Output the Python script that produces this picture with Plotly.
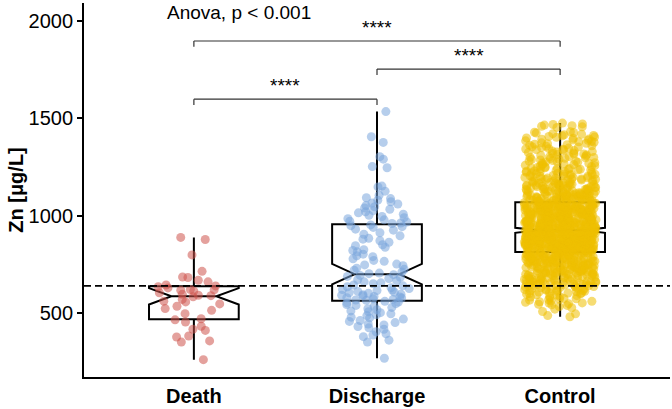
import plotly.graph_objects as go

# ---------------- data ----------------
categories = ["Death", "Discharge", "Control"]
colors = ["#CD534C", "#7AA6DC", "#EFC000"]

death_zn = [
    262, 352, 358, 378, 383, 412, 418, 433, 455, 466,
    472, 498, 515, 524, 536, 548, 558, 562, 571, 584,
    590, 592, 597, 605, 614, 618, 620, 622, 630, 636,
    640, 645, 661, 669, 683, 686, 715, 799, 878, 889,
]

discharge_zn = [
    269, 352, 362, 380, 388, 395, 405, 418, 425, 432, 440, 445, 452, 458, 463, 470, 476,
    480, 488, 492, 497, 503, 508, 512, 518, 523, 530, 536, 540, 545, 549, 553, 557, 561,
    566, 568, 571, 574, 578, 580, 583, 586, 590, 592, 595, 598, 602, 605, 608, 612, 616,
    619, 622, 627, 631, 636, 641, 645, 651, 656, 661, 667, 672, 678, 684, 689, 694, 698,
    703, 706, 712, 721, 725, 731, 744, 748, 752, 766, 771, 779, 790, 795, 803, 815, 822,
    826, 838, 846, 851, 864, 872, 880, 884, 897, 905, 913, 926, 931, 940, 944, 949, 953,
    960, 963, 968, 972, 979, 985, 990, 996, 1002, 1008, 1015, 1020, 1026, 1033, 1040, 1046, 1052,
    1060, 1065, 1072, 1080, 1088, 1092, 1105, 1126, 1148, 1152, 1246, 1252, 1290, 1303, 1376, 1405, 1534,
]

control_zn_a = [
    482, 497, 521, 534, 543, 549,
    553, 559, 561, 567, 572, 576, 583, 587, 593, 598,
    601, 606, 608, 613, 616, 617, 623, 627, 628, 634, 637, 638, 642, 645, 648, 649,
    651, 654, 655, 659, 662, 662, 665, 668, 671, 673, 673, 677, 680, 681, 685, 687, 689, 692, 694, 697, 698, 699,
    701, 703, 703, 706, 707, 710, 712, 713, 716, 718, 719, 721, 722, 725, 727, 728, 730, 733, 734, 736,
    738, 739, 741, 743, 745, 746, 748, 749,
    751, 752, 754, 755, 757, 758, 760, 761, 763, 764, 766, 767, 769, 770, 772, 773, 775, 776, 778, 780,
    781, 783, 784, 786, 787, 789, 791, 792, 794, 796, 797, 799, 801, 803, 805, 807, 809, 812,
    816, 817, 818, 819, 820, 822, 823, 824, 825, 826, 827, 828, 830, 831, 832, 833, 834, 835, 836, 838,
    839, 840, 841, 842, 843, 844, 846, 847, 848, 849, 850, 851, 852, 854, 855, 856, 857, 858, 859, 860,
    862, 863, 864, 865, 866, 867, 868, 869, 870, 871, 873, 874, 875, 876, 877, 878, 879, 880, 881, 882,
    884, 885, 886, 887, 888, 889, 890, 891, 892, 893, 894, 895, 896, 897, 898, 899, 900, 901, 902, 903,
    904, 905, 906, 907, 908, 909, 910, 910, 911, 912, 913, 914, 915, 916, 917, 918, 919, 920, 921, 922,
    923, 924, 821, 829, 837, 845, 853, 861, 872, 883, 845, 868, 877, 888, 895, 903, 912, 918, 860, 850,
    927, 928, 930, 931, 932, 934, 935, 936, 938, 939, 940, 942, 943, 944, 946, 947, 948, 950, 951, 952,
    954, 955, 957, 958, 959, 961, 962, 963, 965, 966, 967, 969, 970, 971, 973, 974, 976, 977, 978, 980,
    981, 982, 984, 985, 986, 988, 989, 991, 992, 993, 995, 996, 997, 999, 1000, 1001, 1003, 1004, 1005, 1007,
    1008, 1010, 1011, 1012, 1014, 1015, 1016, 1018, 1019, 1020, 1022, 1023, 1025, 1026, 1027, 1029, 1030, 1031, 1033, 1034,
    1035, 1037, 1038, 1040, 1041, 1042, 1044, 1045, 1046, 1048, 1049, 1050, 1052, 1053, 1055, 1056, 1057, 1059, 1060, 1061,
    1063, 1064, 1065, 1067, 933, 945, 956, 968, 979, 990, 1002, 1013, 1024, 1036, 1047, 1058, 941, 972, 1009, 1043,
    1071, 1073, 1075, 1077, 1079, 1081, 1083, 1085, 1087, 1089, 1091, 1093, 1096, 1098, 1100, 1102, 1104, 1107, 1109, 1111,
    1113, 1116, 1118, 1120, 1123, 1125, 1128, 1130, 1133, 1135, 1138, 1140, 1143, 1146, 1148, 1151, 1154, 1157, 1160, 1163,
    1166, 1169, 1172, 1175, 1178, 1181, 1185, 1188, 1191, 1195, 1198, 1202, 1205, 1209, 1213, 1216, 1220, 1224, 1228, 1232,
    1236, 1240, 1244, 1248, 1252, 1257, 1261, 1265, 1270, 1274, 1279, 1283, 1288, 1293, 1297, 1302, 1307, 1312, 1317, 1322,
    1327, 1332, 1337, 1342, 1347, 1352, 1357, 1362, 1367, 1372, 1377, 1382, 1387, 1392, 1397, 1402, 1407, 1412, 1418, 1424,
    1427, 1431, 1456, 1462, 1468, 1475, 1074, 1086, 1094, 1105, 1115, 1127, 1137, 1149, 1162, 1177, 1193, 1211, 1238, 1266,
]

control_zn_b = [
    488, 509, 528, 540, 546, 552, 556, 563, 569, 574, 579, 585, 590, 595, 599,
    603, 604, 611, 612, 619, 621, 625, 631, 632, 635, 640, 643, 646, 650,
    652, 657, 658, 660, 664, 666, 670, 670, 675, 678, 679, 683, 684, 688, 691, 693, 696, 700,
    702, 705, 708, 711, 714, 715, 717, 720, 723, 724, 726, 729, 732, 735, 737, 740, 742, 744, 747, 750,
    753, 756, 756, 759, 762, 765, 768, 771, 774, 777, 779, 782, 785, 788, 790, 793, 795, 798, 800, 802,
    804, 806, 808, 810, 811, 812, 753, 762, 771, 777, 784, 790, 796, 802, 808, 728, 738, 747, 717, 706,
    693, 682, 668, 657, 641, 629, 614, 781, 791, 799, 805, 766, 758,
    816, 818, 819, 821, 822, 824, 825, 827, 828, 829, 831, 832, 834, 835, 836, 837, 839, 840, 842, 843,
    844, 845, 847, 848, 850, 851, 853, 854, 855, 857, 858, 859, 861, 862, 863, 865, 866, 867, 869, 870,
    871, 872, 874, 875, 876, 878, 879, 880, 882, 883, 884, 886, 887, 888, 890, 891, 892, 894, 895, 896,
    898, 899, 900, 902, 903, 904, 906, 907, 908, 909, 911, 912, 913, 915, 916, 917, 919, 920, 921, 923,
    817, 820, 826, 830, 833, 838, 841, 846, 849, 852, 856, 860, 864, 868, 873, 877, 881, 885, 889, 893,
    897, 901, 905, 910, 914, 918, 922, 924, 826, 839, 852, 866, 879, 892, 905, 918, 833, 859, 885, 911,
    928, 929, 931, 933, 934, 936, 937, 939, 941, 942, 944, 945, 947, 949, 950, 952, 953, 955, 957, 958,
    960, 961, 963, 964, 966, 968, 969, 971, 972, 974, 975, 977, 979, 980, 982, 983, 985, 987, 988, 990,
    991, 993, 994, 996, 998, 999, 1001, 1002, 1004, 1006, 1007, 1009, 1010, 1012, 1013, 1015, 1017, 1018, 1020, 1021,
    1023, 1024, 1026, 1028, 1029, 1031, 1032, 1034, 1036, 1037, 1039, 1040, 1042, 1043, 1045, 1047, 1048, 1050, 1051, 1053,
    1054, 1056, 1058, 1059, 1061, 1062, 1064, 1066, 927, 935, 946, 956, 965, 976, 986, 997, 1005, 1016, 1027, 1038,
    1049, 1060, 930, 951, 970, 989, 1008, 1025, 1044, 1063, 938, 959, 978, 995, 1014, 1033, 1052, 943, 981, 1019,
    1072, 1074, 1076, 1078, 1080, 1082, 1084, 1086, 1088, 1090, 1092, 1095, 1097, 1099, 1101, 1103, 1106, 1108, 1110, 1112,
    1114, 1117, 1119, 1122, 1124, 1127, 1129, 1131, 1134, 1136, 1139, 1142, 1144, 1147, 1150, 1152, 1155, 1158, 1161, 1164,
    1167, 1170, 1173, 1176, 1179, 1183, 1186, 1189, 1193, 1196, 1200, 1203, 1207, 1211, 1214, 1218, 1222, 1226, 1230, 1234,
    1238, 1242, 1246, 1250, 1255, 1259, 1263, 1268, 1272, 1277, 1281, 1286, 1290, 1295, 1300, 1304, 1309, 1314, 1319, 1324,
    1329, 1334, 1339, 1344, 1349, 1354, 1359, 1364, 1369, 1374, 1379, 1384, 1389, 1394, 1399, 1404, 1410, 1415, 1421, 1428,
    1453, 1459, 1465, 1471, 1076, 1089, 1101, 1113, 1126, 1141, 1156, 1171, 1187, 1204, 1223, 1245, 1276, 1299, 1316, 1341,
]

group_values = [death_zn, discharge_zn, control_zn_a + control_zn_b]

y_ticks = [500, 1000, 1500, 2000]
reference_level = 640
anova_label = "Anova, p < 0.001"

# pairwise comparisons: (group a, group b, bracket height, label)
comp_a = ["Death", "Discharge", "Death"]
comp_b = ["Control", "Control", "Discharge"]
comp_y = [1896, 1752, 1598]
comp_label = ["****", "****", "****"]
bracket_tip = 30

# ---------------- figure ----------------
FONT = "Liberation Sans, Arial, sans-serif"
jitters = [1.0, 0.8, 0.8]
fig = go.Figure()

# boxes first (underneath)
for name, vals in zip(categories, group_values):
    fig.add_trace(go.Box(
        y=vals, name=name, boxpoints=False,
        notched=True, notchwidth=0.25, whiskerwidth=0,
        fillcolor="rgba(255,255,255,0)",
        line=dict(color="black", width=2),
        hoverinfo="skip",
    ))

# jittered points on top
for name, vals, col, jit in zip(categories, group_values, colors, jitters):
    fig.add_trace(go.Box(
        y=vals, name=name,
        boxpoints="all", jitter=jit, pointpos=0,
        notched=True, notchwidth=0.25, whiskerwidth=0,
        fillcolor="rgba(0,0,0,0)",
        line=dict(color="rgba(0,0,0,0)", width=0),
        marker=dict(color=col, opacity=0.55, size=9, line=dict(width=0)),
        hoverinfo="y",
    ))

shapes = [dict(type="line", xref="paper", x0=0, x1=1, yref="y",
               y0=reference_level, y1=reference_level,
               line=dict(color="black", width=1.8, dash="7px,4px"), layer="above")]

annotations = []
for a, b, yv, lab in zip(comp_a, comp_b, comp_y, comp_label):
    xa, xb = categories.index(a), categories.index(b)
    for seg in [(xa, yv, xb, yv), (xa, yv, xa, yv - bracket_tip), (xb, yv, xb, yv - bracket_tip)]:
        shapes.append(dict(type="line", xref="x", yref="y",
                           x0=seg[0], y0=seg[1], x1=seg[2], y1=seg[3],
                           line=dict(color="#333333", width=1.2), layer="above"))
    annotations.append(dict(x=(xa + xb) / 2, y=yv, xref="x", yref="y",
                            text=lab, showarrow=False, yanchor="bottom", yshift=1,
                            font=dict(family=FONT, size=19, color="black")))

annotations.append(dict(x=-0.155, y=2040, xref="x", yref="y", text=anova_label,
                        showarrow=False, xanchor="left", yanchor="middle",
                        font=dict(family=FONT, size=19, color="black")))

fig.update_layout(
    width=672, height=409,
    margin=dict(l=84, r=2, t=3, b=32),
    paper_bgcolor="white", plot_bgcolor="white",
    showlegend=False, boxmode="overlay",
    shapes=shapes, annotations=annotations,
    font=dict(family=FONT, color="black"),
    xaxis=dict(type="category", categoryorder="array", categoryarray=categories,
               range=[-0.6, 2.6], showline=True, linecolor="black", linewidth=1.8,
               ticks="", showgrid=False, zeroline=False, automargin=False,
               tickfont=dict(family=FONT, size=20, color="black", weight="bold"),
               ticklabelstandoff=0),
    yaxis=dict(range=[173, 2091], tickvals=y_ticks, ticks="outside", ticklen=5,
               tickwidth=1.8, tickcolor="black", showline=True, linecolor="black",
               linewidth=1.8, showgrid=False, zeroline=False, automargin=False,
               tickfont=dict(family=FONT, size=20, color="black"),
               title=dict(text="Zn [μg/L]", standoff=0,
                          font=dict(family=FONT, size=20, color="black", weight="bold"))),
)

fig.write_html("out.html", config={"displayModeBar": False},
               post_script="document.body.style.margin='0';")
